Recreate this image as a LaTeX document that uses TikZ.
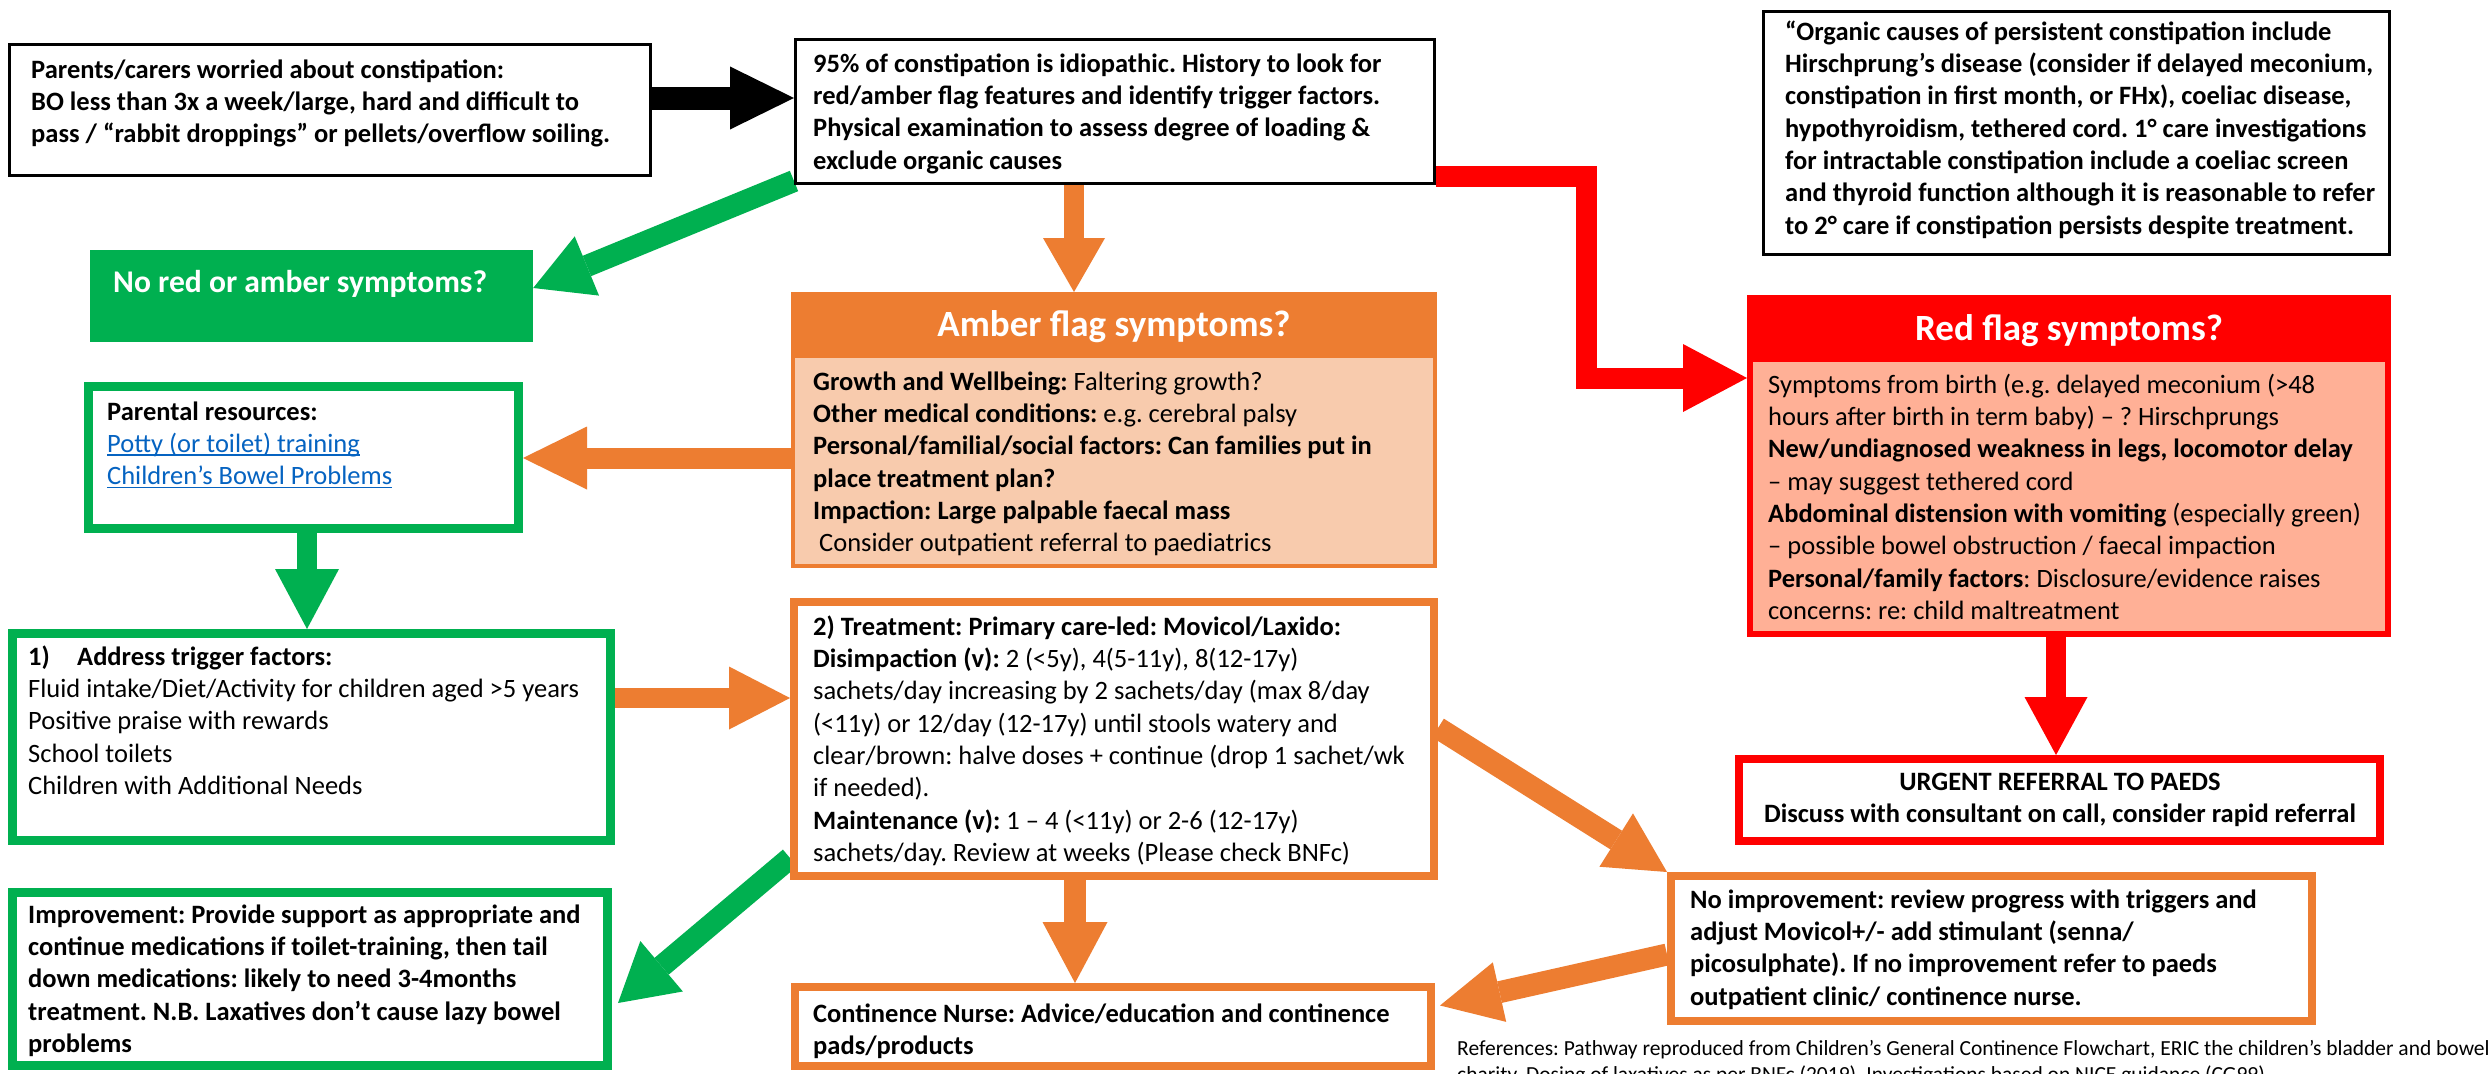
\documentclass[tikz,border=0pt]{standalone}
\usepackage{fontspec}
\setmainfont{Carlito}
\usetikzlibrary{arrows.meta,fit,calc,backgrounds}
\definecolor{cgreen}{RGB}{0,176,80}
\definecolor{corange}{RGB}{237,125,49}
\definecolor{cpeach}{RGB}{248,203,173}
\definecolor{cred}{RGB}{255,0,0}
\definecolor{csalmon}{RGB}{255,176,150}
\definecolor{clink}{RGB}{5,99,193}
\tikzset{
  blackbox/.style={draw=black, line width=3pt, inner sep=0pt, fill=white},
  greenbox/.style={draw=cgreen, line width=9pt, inner sep=0pt, fill=white},
  orangebox/.style={draw=corange, line width=8pt, inner sep=0pt, fill=white},
  redframe/.style={draw=cred, line width=8pt, inner sep=0pt, fill=white},
  txt/.style={anchor=north west, inner sep=0pt, align=left, font=\fontsize{26.5}{32.3}\selectfont},
  btxt/.style={anchor=north west, inner sep=0pt, align=left, font=\fontsize{26.5}{32.3}\selectfont\bfseries},
  ctxt/.style={anchor=north, inner sep=0pt, align=center, font=\fontsize{26.5}{32.3}\selectfont\bfseries},
  reftxt/.style={anchor=north west, inner sep=0pt, align=left, font=\fontsize{21.5}{26}\selectfont},
  ttl/.style={anchor=base, inner sep=0pt, text=white, font=\fontsize{37}{44}\selectfont\bfseries},
  blockarrow/.style={line width=#1, line join=miter},
  tipA/.style={-{Triangle[length=64pt,width=63pt,line width=0pt]}},
}
\newsavebox{\lnkbox}
\newcommand{\lnk}[1]{\textcolor{clink}{\sbox{\lnkbox}{#1}\rlap{\rule[-3.5pt]{\wd\lnkbox}{1.6pt}}\usebox{\lnkbox}}}
\frenchspacing
\begin{document}
\frenchspacing
\begin{tikzpicture}[x=1pt,y=-1pt]
\useasboundingbox (0,0) rectangle (2491,1073);

% ---------- boxes ----------
\node[blackbox, fit={(9.5,44.5) (650.5,175.5)}] (b1) {};
\node[blackbox, fit={(795.5,39.5) (1434.5,183.5)}] (b2) {};
\node[blackbox, fit={(1763.5,11.5) (2389.5,254.5)}] (b3) {};
\node[fill=cgreen, inner sep=0pt, fit={(90,250) (533,342)}] (nora) {};
\node[draw=corange, fill=cpeach, line width=4pt, inner sep=0pt, fit={(793,294) (1435,566)}] (amb) {};
\node[fill=corange, inner sep=0pt, fit={(793,294) (1435,358)}] (ambh) {};
\node[draw=cred, fill=csalmon, line width=6pt, inner sep=0pt, fit={(1750,298) (2388,634)}] (red) {};
\node[fill=cred, inner sep=0pt, fit={(1750,298) (2388,362)}] (redh) {};
\node[redframe, fit={(1739,759) (2380,841)}] (urg) {};
\node[greenbox, fit={(88.5,386.5) (518.5,528.5)}] (par) {};
\node[greenbox, fit={(12.5,633.5) (610.5,840.5)}] (addr) {};
\node[orangebox, fit={(794,602) (1434,876)}] (treat) {};
\node[greenbox, fit={(12.5,892.5) (607.5,1065.5)}] (impr) {};
\node[orangebox, fit={(795,987) (1431,1066)}] (cont) {};
\node[orangebox, fit={(1671,876) (2312,1021)}] (noimp) {};

% ---------- texts ----------
\node[btxt] (t1) at (31,55.4) {\strut Parents/carers worried about constipation:\\BO less than 3x a week/large, hard and difficult to\\pass / “rabbit droppings” or pellets/overflow soiling.};
\node[btxt] (t2) at (813,49.4) {\strut 95\% of constipation is idiopathic. History to look for\\red/amber flag features and identify trigger factors.\\Physical examination to assess degree of loading \&\\exclude organic causes};
\node[btxt] (t3) at (1785,17.4) {\strut “Organic causes of persistent constipation include\\Hirschprung’s disease (consider if delayed meconium,\\constipation in first month, or FHx), coeliac disease,\\hypothyroidism, tethered cord. 1° care investigations\\for intractable constipation include a coeliac screen\\and thyroid function although it is reasonable to refer\\to 2° care if constipation persists despite treatment.};
\node[ttl, anchor=base west, font=\fontsize{31.6}{38}\selectfont\bfseries] (tnora) at (113,292) {No red or amber symptoms?};
\node[ttl] (tamb) at (1114,336) {Amber flag symptoms?};
\node[txt] (tambb) at (813,367.4) {\strut\textbf{Growth and Wellbeing:} Faltering growth?\\\textbf{Other medical conditions:} e.g. cerebral palsy\\\textbf{Personal/familial/social factors: Can families put in}\\\textbf{place treatment plan?}\\\textbf{Impaction: Large palpable faecal mass}\\\ Consider outpatient referral to paediatrics};
\node[ttl] (tred) at (2069,340) {Red flag symptoms?};
\node[txt] (tredb) at (1768,370.4) {\strut Symptoms from birth (e.g. delayed meconium (>48\\hours after birth in term baby) – ? Hirschprungs\\\textbf{New/undiagnosed weakness in legs, locomotor delay}\\– may suggest tethered cord\\\textbf{Abdominal distension with vomiting} (especially green)\\– possible bowel obstruction / faecal impaction\\\textbf{Personal/family factors}: Disclosure/evidence raises\\concerns: re: child maltreatment};
\node[ctxt] (turg) at (2060,767.4) {\strut URGENT REFERRAL TO PAEDS\\Discuss with consultant on call, consider rapid referral};
\node[txt] (tpar) at (107,397.4) {\strut\textbf{Parental resources:}\\\lnk{Potty (or toilet) training}\\\lnk{Children’s Bowel Problems}};
\node[txt] (taddr) at (28,642.4) {\strut\textbf{\makebox[49pt][l]{1)}Address trigger factors:}\\Fluid intake/Diet/Activity for children aged >5 years\\Positive praise with rewards\\School toilets\\Children with Additional Needs};
\node[txt] (ttreat) at (813,612.4) {\strut\textbf{2) Treatment: Primary care-led: Movicol/Laxido:}\\\textbf{Disimpaction (v):} 2 (<5y), 4(5-11y), 8(12-17y)\\sachets/day increasing by 2 sachets/day (max 8/day\\(<11y) or 12/day (12-17y) until stools watery and\\clear/brown: halve doses + continue (drop 1 sachet/wk\\if needed).\\\textbf{Maintenance (v):} 1 – 4 (<11y) or 2-6 (12-17y)\\sachets/day. Review at weeks (Please check BNFc)};
\node[btxt] (timpr) at (28,900.4) {\strut Improvement: Provide support as appropriate and\\continue medications if toilet-training, then tail\\down medications: likely to need 3-4months\\treatment. N.B. Laxatives don’t cause lazy bowel\\problems};
\node[btxt] (tcont) at (813,999.4) {\strut Continence Nurse: Advice/education and continence\\pads/products};
\node[btxt] (tnoimp) at (1690,885.4) {\strut No improvement: review progress with triggers and\\adjust Movicol+/- add stimulant (senna/\\picosulphate). If no improvement refer to paeds\\outpatient clinic/ continence nurse.};
\node[reftxt] (tref) at (1457,1036.8) {\strut References: Pathway reproduced from Children’s General Continence Flowchart, ERIC the children’s bladder and bowel\\charity. Dosing of laxatives as per BNFc (2019). Investigations based on NICE guidance (CG99).};

% ---------- connector coordinates ----------
\coordinate (ka) at ($(b1.east)+(0,-12)$);
\coordinate (kb) at ($(b2.south)+(-41,0)$);
\coordinate (kc) at ($(b2.south west)+(0,-4)$);
\coordinate (kc2) at ($(nora.east)+(0,-8)$);
\coordinate (kd) at ($(amb.west)+(0,28)$);
\coordinate (ke) at ($(par.south)+(3.5,0)$);
\coordinate (kf) at ($(addr.east)+(0,-39)$);
\coordinate (kg) at ($(treat.south west)+(0,-22)$);
\coordinate (kg2) at ($(impr.east)+(6,24)$);
\coordinate (kh) at ($(treat.east)+(0,-11)$);
\coordinate (ki) at ($(noimp.west)+(0,6)$);
\coordinate (ki2) at ($(cont.east)+(5,-21)$);
\coordinate (kj) at ($(treat.south)+(-39,0)$);
\coordinate (kk) at ($(b2.east)+(0,64.5)$);
\coordinate (kk1) at (1586,176);
\coordinate (kk2) at (1586,378);
\coordinate (kl) at ($(red.south)+(-13,0)$);

% ---------- connectors ----------
\begin{scope}[on background layer]
\fill[white] (0,0) rectangle (2491,1073);
\draw[blockarrow=23pt, black, tipA] (ka) -- (ka -| b2.west);
\draw[blockarrow=20pt, corange, -{Triangle[length=54pt,width=62pt,line width=0pt]}] (kb) -- (kb |- amb.north);
\draw[blockarrow=22pt, cgreen, -{Triangle[length=58pt,width=64pt,line width=0pt]}] (kc) -- (kc2);
\draw[blockarrow=21pt, corange, tipA] (kd) -- (kd -| par.east);
\draw[blockarrow=20pt, cgreen, -{Triangle[length=60pt,width=64pt,line width=0pt]}] (ke) -- (ke |- addr.north);
\draw[blockarrow=20pt, corange, -{Triangle[length=61pt,width=63pt,line width=0pt]}] (kf) -- (kf -| treat.west);
\draw[blockarrow=22pt, cgreen, -{Triangle[length=57pt,width=66pt,line width=0pt]}] (kg) -- (kg2);
\draw[blockarrow=22pt, corange, -{Triangle[length=60pt,width=63pt,line width=0pt]}] (kh) -- (noimp.north west);
\draw[blockarrow=22pt, corange, -{Triangle[length=61pt,width=61pt,line width=0pt]}] (ki) -- (ki2);
\draw[blockarrow=22pt, corange, -{Triangle[length=61pt,width=65pt,line width=0pt]}] (kj) -- (kj |- cont.north);
\draw[blockarrow=21pt, cred, -{Triangle[length=64pt,width=68pt,line width=0pt]}] (kk) -- (kk1) -- (kk2) -- (kk2 -| red.west);
\draw[blockarrow=20pt, cred, -{Triangle[length=58pt,width=63pt,line width=0pt]}] (kl) -- (kl |- urg.north);
\end{scope}
\end{tikzpicture}
\end{document}
